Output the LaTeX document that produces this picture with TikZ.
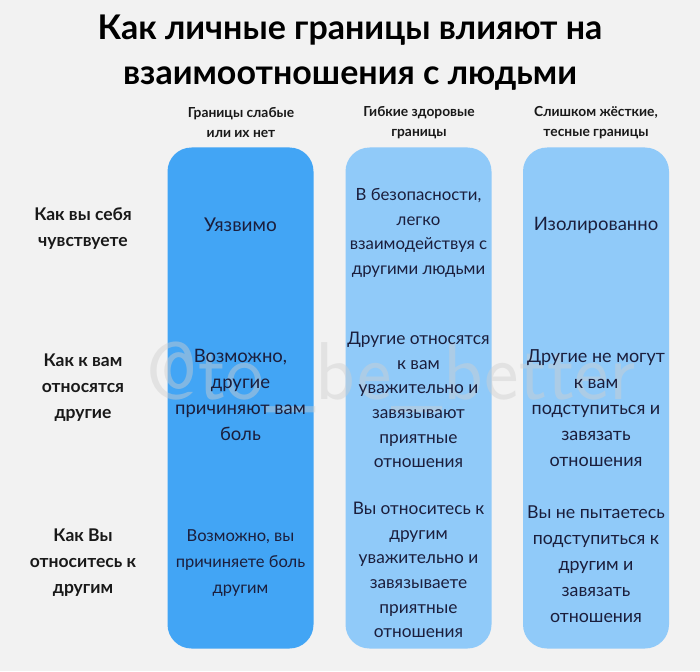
\documentclass[tikz,border=0pt]{standalone}
\usepackage{fontspec}
\setmainfont{Lato}
\newfontfamily\latob{Lato Bold}
\definecolor{bg}{HTML}{F2F2F2}
\definecolor{colA}{HTML}{42A5F5}
\definecolor{colB}{HTML}{90CAF9}
\definecolor{ink}{HTML}{1B1E3C}
\definecolor{wm}{HTML}{CFCFCF}
\newcommand{\fsz}[2]{\fontsize{#1}{#2}\selectfont}
\tikzset{
  colbox/.style={rounded corners=24pt, draw=none, minimum width=146pt, minimum height=501pt, inner sep=0pt},
  body/.style={align=center, text=ink, inner sep=0pt},
  rowlab/.style={align=center, text=black!90, font=\latob\fsz{17.5}{26}, inner sep=0pt},
  colhead/.style={align=center, text=black!90, font=\latob\fsz{13.8}{20}, inner sep=0pt},
  titletext/.style={align=center, text=black, font=\latob\fsz{34}{45}, inner sep=0pt},
}
\begin{document}
\begin{tikzpicture}[x=1pt,y=-1pt]
\fill[bg] (0,0) rectangle (700,671);
\useasboundingbox (0,0) rectangle (700,671);
% title
\node[titletext] (title) at (350,53) {Как личные границы влияют на\\взаимоотношения с людьми};
% column headers
\node[colhead] (h1) at (241,123) {Границы слабые\\или их нет};
\node[colhead] (h2) at (419,123) {Гибкие здоровые\\границы};
\node[colhead] (h3) at (596,123) {Слишком жёсткие,\\тесные границы};
% columns
\node[colbox, fill=colA] (c1) at (240.5,398) {};
\node[colbox, fill=colB] (c2) at (418.5,398) {};
\node[colbox, fill=colB] (c3) at (596,398) {};
% row labels
\node[rowlab] (r1) at (83,229) {Как вы себя\\чувствуете};
\node[rowlab] (r2) at (83,388) {Как к вам\\относятся\\другие};
\node[rowlab] (r3) at (83,563) {Как Вы\\относитесь к\\другим};
% watermark
\node[text=wm, opacity=0.45, font=\sffamily\fsz{82}{82}, inner sep=0pt] (wmk) at (391,377) {@to\_be\_better};
% column 1
\node[body, font=\fsz{19}{26}] (a1) at (240.5,225) {Уязвимо};
\node[body, font=\fsz{18.5}{26}] (a2) at (240.5,395) {Возможно,\\другие\\причиняют вам\\боль};
\node[body, font=\fsz{16.5}{26}] (a3) at (240.5,563) {Возможно, вы\\причиняете боль\\другим};
% column 2
\node[body, font=\fsz{16.8}{24.6}] (b1) at (418.5,233) {В безопасности,\\легко\\взаимодействуя с\\другими людьми};
\node[body, font=\fsz{17.3}{24.6}] (b2) at (418.5,400) {Другие относятся\\к вам\\уважительно и\\завязывают\\приятные\\отношения};
\node[body, font=\fsz{17.3}{24.6}] (b3) at (418.5,570) {Вы относитесь к\\другим\\уважительно и\\завязываете\\приятные\\отношения};
% column 3
\node[body, font=\fsz{18.5}{26}] (d1) at (596,225) {Изолированно};
\node[body, font=\fsz{18}{26}] (d2) at (596,408) {Другие не могут\\к вам\\подступиться и\\завязать\\отношения};
\node[body, font=\fsz{17.8}{26}] (d3) at (596,564) {Вы не пытаетесь\\подступиться к\\другим и\\завязать\\отношения};
\end{tikzpicture}
\end{document}
